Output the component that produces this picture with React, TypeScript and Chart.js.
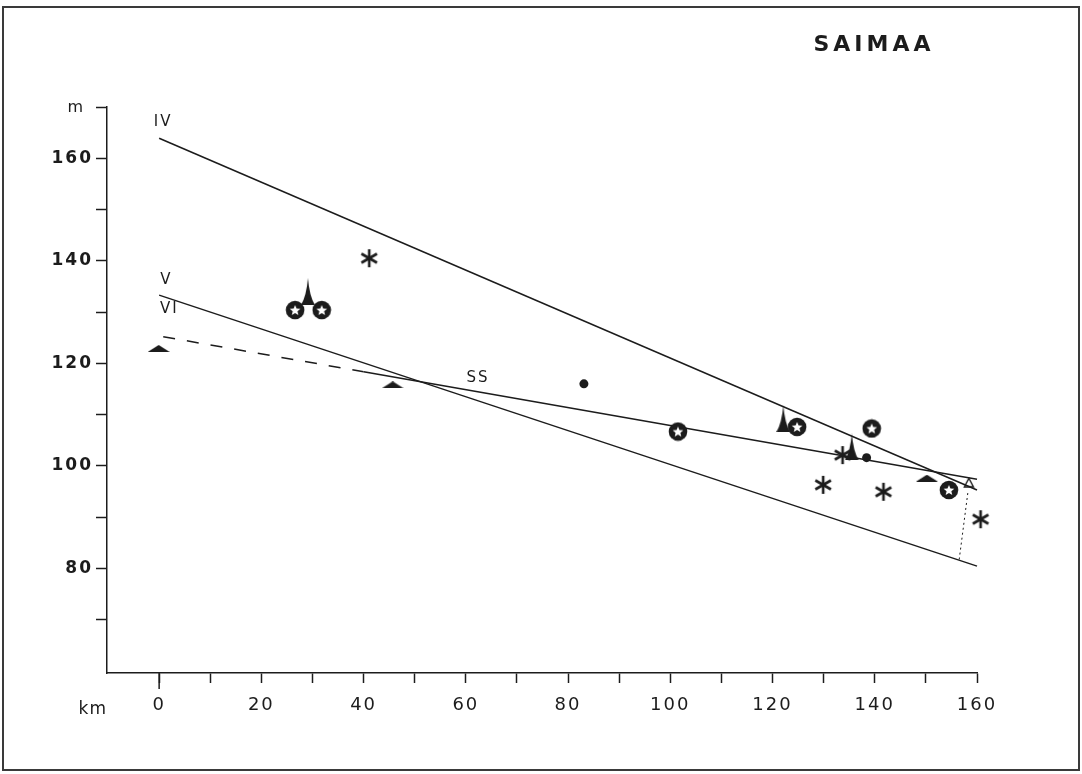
import React, { useEffect, useRef } from 'react';
import { Chart, registerables } from 'chart.js';

Chart.register(...registerables);

// ---- Data (km, m) ----
const xTickValues = [0, 10, 20, 30, 40, 50, 60, 70, 80, 90, 100, 110, 120, 130, 140, 150, 160];
const yTickValues = [70, 80, 90, 100, 110, 120, 130, 140, 150, 160, 170];
const xLabelValues = [0, 20, 40, 60, 80, 100, 120, 140, 160];
const yLabelValues = [80, 100, 120, 140, 160];

const lineIV = [{ x: 0, y: 163.9 }, { x: 160, y: 95.3 }];
const lineV = [{ x: 0, y: 133.3 }, { x: 160, y: 80.45 }];
const lineVI = [{ x: 0.8, y: 125.2 }, { x: 40, y: 118.35 }];
const lineSS = [{ x: 40, y: 118.35 }, { x: 160, y: 97.4 }];
const lineDotted = [{ x: 158.2, y: 94.7 }, { x: 156.5, y: 81.6 }];

const asteriskKm = [41.1, 129.9, 133.7, 141.7, 160.7];
const asteriskM = [140.5, 96.3, 102.1, 94.95, 89.6];
const ringKm = [26.6, 31.8, 101.5, 124.8, 139.4, 154.5];
const ringM = [130.4, 130.4, 106.7, 107.6, 107.3, 95.3];
const spikeKm = [29.1, 122.1, 135.5];
const spikeM = [134.0, 109.2, 103.7];
const dotKm = [83.1, 138.4];
const dotM = [116.0, 101.6];
const flatTriKm = [-0.1, 45.7, 150.2];
const flatTriM = [122.9, 115.8, 97.6];
const openTriKm = [158.4];
const openTriM = [96.8];

const lineLabels = ['IV', 'V', 'VI', 'SS'];
const lineLabelKm = [0.6, 1.2, 1.8, 62.2];
const lineLabelM = [167.0, 136.3, 130.6, 117.1];

const title = 'SAIMAA';
const xUnit = 'km';
const yUnit = 'm';

const INK = '#1c1c1c';

function mk(w: number, h: number, draw: (c: CanvasRenderingContext2D) => void) {
  const cv = document.createElement('canvas');
  cv.width = w;
  cv.height = h;
  const c = cv.getContext('2d')!;
  draw(c);
  return cv;
}

function starPath(c: CanvasRenderingContext2D, cx: number, cy: number, ro: number, ri: number) {
  c.beginPath();
  for (let i = 0; i < 10; i++) {
    const r = i % 2 === 0 ? ro : ri;
    const a = -Math.PI / 2 + (i * Math.PI) / 5;
    const px = cx + r * Math.cos(a);
    const py = cy + r * Math.sin(a);
    if (i === 0) c.moveTo(px, py);
    else c.lineTo(px, py);
  }
  c.closePath();
}

function pts(xs: number[], ys: number[]) {
  return xs.map((x, i) => ({ x, y: ys[i] }));
}

export default function App() {
  const ref = useRef<HTMLCanvasElement | null>(null);

  useEffect(() => {
    const canvas = ref.current!;

    const ringImg = mk(20, 20, (c) => {
      c.fillStyle = INK;
      c.beginPath();
      c.arc(10, 10, 9.3, 0, Math.PI * 2);
      c.fill();
      c.fillStyle = '#fff';
      starPath(c, 10, 10.5, 5.6, 2.5);
      c.fill();
    });
    const asteriskImg = mk(22, 22, (c) => {
      c.strokeStyle = INK;
      c.lineWidth = 2.6;
      c.lineCap = 'butt';
      for (let i = 0; i < 6; i++) {
        const a = -Math.PI / 2 + (i * Math.PI) / 3;
        c.beginPath();
        c.moveTo(11, 11);
        c.lineTo(11 + 9 * Math.cos(a), 11 + 9 * Math.sin(a));
        c.stroke();
      }
    });
    const spikeImg = mk(14, 27, (c) => {
      c.fillStyle = INK;
      c.beginPath();
      c.moveTo(7, 0);
      c.quadraticCurveTo(5.5, 18, 0, 27);
      c.lineTo(14, 27);
      c.quadraticCurveTo(8.5, 18, 7, 0);
      c.closePath();
      c.fill();
    });
    const flatTriImg = mk(22, 7, (c) => {
      c.fillStyle = INK;
      c.beginPath();
      c.moveTo(0, 7);
      c.lineTo(11, 0);
      c.lineTo(22, 7);
      c.closePath();
      c.fill();
    });
    const openTriImg = mk(12, 11, (c) => {
      c.strokeStyle = INK;
      c.lineWidth = 1.4;
      c.beginPath();
      c.moveTo(1.5, 10);
      c.lineTo(6, 1.5);
      c.lineTo(10.5, 10);
      c.closePath();
      c.stroke();
    });

    const lineDs = (data: any[], dash: number[] = [], width = 1.5) => ({
      data,
      showLine: true,
      borderColor: INK,
      borderWidth: width,
      borderDash: dash,
      pointRadius: 0,
      fill: false,
      clip: false as any,
      order: 2,
    });
    const markDs = (data: any[], style: any, radius = 10) => ({
      data,
      showLine: false,
      pointStyle: style,
      pointRadius: radius,
      backgroundColor: INK,
      borderColor: INK,
      borderWidth: 0,
      clip: false as any,
      order: 0,
    });

    const decor = {
      id: 'decor',
      beforeDraw(chart: any) {
        const ctx = chart.ctx as CanvasRenderingContext2D;
        ctx.save();
        ctx.fillStyle = '#fff';
        ctx.fillRect(0, 0, chart.width, chart.height);
        ctx.strokeStyle = '#3a3a3a';
        ctx.lineWidth = 2;
        ctx.strokeRect(3, 7, 1076, 763);
        ctx.restore();
        (ctx as any).letterSpacing = '2px';
      },
      afterDraw(chart: any) {
        const ctx = chart.ctx as CanvasRenderingContext2D;
        const xs = chart.scales.x;
        const ys = chart.scales.y;
        ctx.save();
        (ctx as any).letterSpacing = '0px';
        // longer tick at 0 km
        ctx.strokeStyle = INK;
        ctx.lineWidth = 1.5;
        const x0 = xs.getPixelForValue(0);
        ctx.beginPath();
        ctx.moveTo(x0, xs.top);
        ctx.lineTo(x0, xs.top + 16);
        ctx.stroke();
        // unit labels
        ctx.fillStyle = INK;
        ctx.font = '16px "DejaVu Sans"';
        ctx.textAlign = 'right';
        ctx.textBaseline = 'middle';
        ctx.fillText(yUnit, 83, ys.getPixelForValue(170) + 1);
        ctx.font = '17px "DejaVu Sans"';
        (ctx as any).letterSpacing = '1px';
        ctx.fillText(xUnit, 107, xs.top + 37);
        // line labels
        ctx.font = '15px "DejaVu Sans"';
        (ctx as any).letterSpacing = '2px';
        ctx.textAlign = 'center';
        lineLabels.forEach((t, i) => {
          ctx.fillText(t, xs.getPixelForValue(lineLabelKm[i]) + 1, ys.getPixelForValue(lineLabelM[i]));
        });
        // title
        ctx.font = 'bold 22px "DejaVu Sans"';
        (ctx as any).letterSpacing = '4px';
        ctx.textAlign = 'center';
        ctx.textBaseline = 'alphabetic';
        ctx.fillText(title, 874, 51);
        ctx.restore();
      },
    };

    const chart = new Chart(canvas, {
      type: 'scatter',
      data: {
        datasets: [
          lineDs(lineIV),
          lineDs(lineV),
          lineDs(lineVI, [12, 12]),
          lineDs(lineSS),
          lineDs(lineDotted, [2, 3], 1),
          markDs(pts(asteriskKm, asteriskM), asteriskImg),
          markDs(pts(ringKm, ringM), ringImg),
          markDs(pts(spikeKm, spikeM), spikeImg),
          markDs(pts(dotKm, dotM), 'circle', 4.5),
          markDs(pts(flatTriKm, flatTriM), flatTriImg),
          markDs(pts(openTriKm, openTriM), openTriImg),
        ] as any,
      },
      options: {
        responsive: false,
        animation: false,
        devicePixelRatio: 1,
        layout: { padding: { left: 0, right: 105, top: 107, bottom: 0 } },
        plugins: { legend: { display: false }, tooltip: { enabled: false } },
        scales: {
          x: {
            type: 'linear',
            min: -10.2,
            max: 160,
            grid: { display: true, drawOnChartArea: false, drawTicks: true, tickLength: 10, tickWidth: 1.5, tickColor: INK },
            border: { display: true, color: INK, width: 1.5 },
            ticks: {
              autoSkip: false,
              maxRotation: 0,
              padding: 12,
              color: INK,
              font: { family: 'DejaVu Sans', size: 18 },
              callback: (v: any) => (xLabelValues.includes(Number(v)) ? String(v) : ''),
            },
            afterBuildTicks: (s: any) => {
              s.ticks = xTickValues.map((v) => ({ value: v }));
            },
            afterFit: (s: any) => {
              s.height = 101;
            },
          },
          y: {
            type: 'linear',
            min: 59.6,
            max: 170,
            grid: { display: true, drawOnChartArea: false, drawTicks: true, tickLength: 11, tickWidth: 1.5, tickColor: INK },
            border: { display: true, color: INK, width: 1.5 },
            ticks: {
              autoSkip: false,
              padding: 3,
              color: INK,
              font: { family: 'DejaVu Sans', size: 17, weight: 'bold' },
              callback: (v: any) => (yLabelValues.includes(Number(v)) ? String(v) : ''),
            },
            afterBuildTicks: (s: any) => {
              s.ticks = yTickValues.map((v) => ({ value: v }));
            },
            afterFit: (s: any) => {
              s.width = 107;
            },
          },
        },
      } as any,
      plugins: [decor],
    });

    return () => chart.destroy();
  }, []);

  return (
    <div style={{ position: 'fixed', left: 0, top: 0, width: 1082, height: 774, background: '#fff' }}>
      <canvas ref={ref} width={1082} height={774} style={{ display: 'block' }} />
    </div>
  );
}
